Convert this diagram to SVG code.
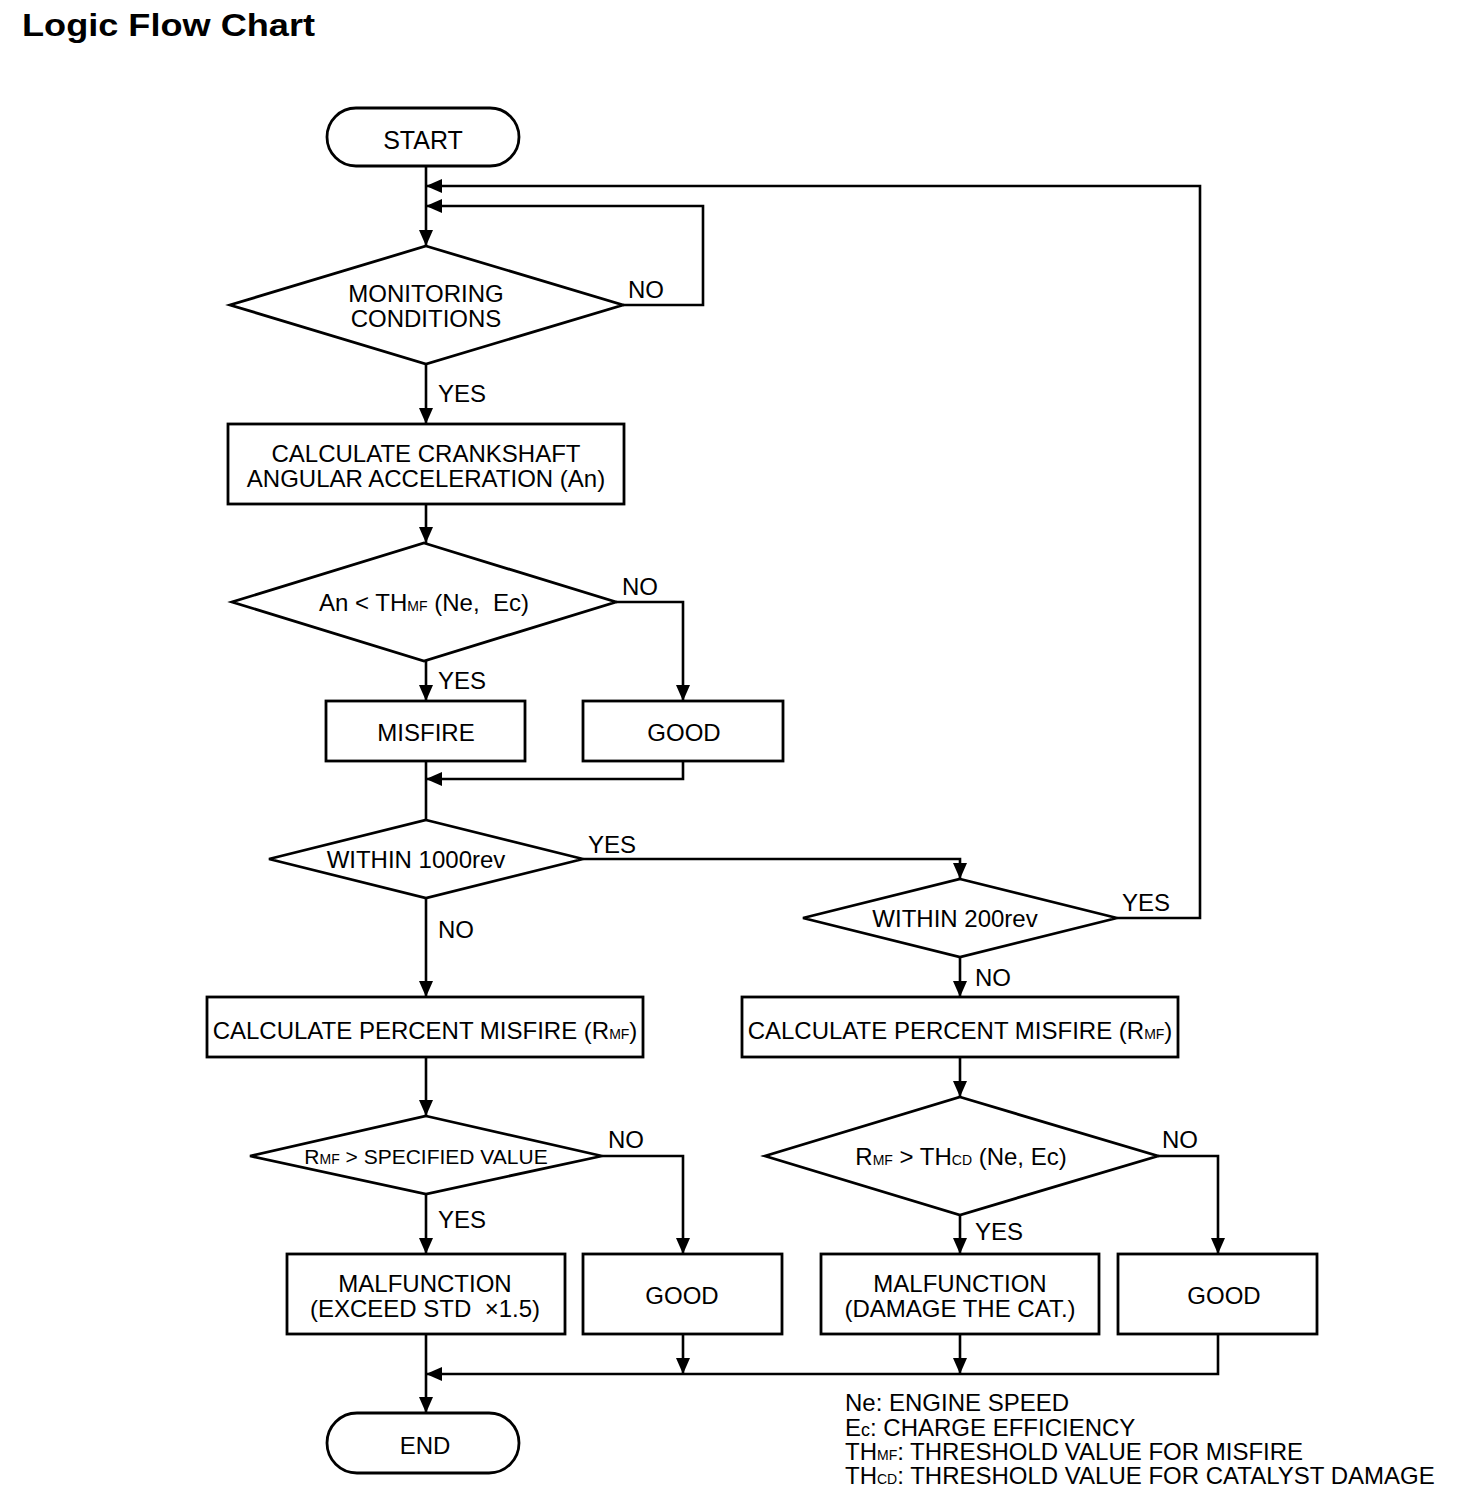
<svg xmlns="http://www.w3.org/2000/svg" width="1472" height="1502" viewBox="0 0 1472 1502">
<style>
.s{fill:#fff;stroke:#000;stroke-width:2.8}
.c{fill:none;stroke:#000;stroke-width:2.6}
text{font-family:"Liberation Sans",Arial,sans-serif;font-size:24px;fill:#000}
.m{text-anchor:middle}
.sub{font-size:14px}
.t{font-size:31px;font-weight:bold}
</style>
<defs>
<marker id="ah" viewBox="0 0 16 14" refX="16" refY="7" markerWidth="16" markerHeight="14" orient="auto" markerUnits="userSpaceOnUse"><path d="M0,0 L16,7 L0,14 z" fill="#000"/></marker>
</defs>
<rect width="1472" height="1502" fill="#fff"/>
<text x="22" y="36" class="t" textLength="293" lengthAdjust="spacingAndGlyphs">Logic Flow Chart</text>

<g id="connectors">
<path class="c" d="M426,166 V246" marker-end="url(#ah)"/>
<path class="c" d="M1117,918 H1200 V186 H426" marker-end="url(#ah)"/>
<path class="c" d="M623,305 H703 V206 H426" marker-end="url(#ah)"/>
<path class="c" d="M426,364 V424" marker-end="url(#ah)"/>
<path class="c" d="M426,504 V543" marker-end="url(#ah)"/>
<path class="c" d="M616,602 H683 V701" marker-end="url(#ah)"/>
<path class="c" d="M426,661 V701" marker-end="url(#ah)"/>
<path class="c" d="M426,761 V820"/>
<path class="c" d="M683,761 V779 H426" marker-end="url(#ah)"/>
<path class="c" d="M583,859 H960 V879" marker-end="url(#ah)"/>
<path class="c" d="M426,898 V997" marker-end="url(#ah)"/>
<path class="c" d="M960,957 V997" marker-end="url(#ah)"/>
<path class="c" d="M426,1057 V1116" marker-end="url(#ah)"/>
<path class="c" d="M960,1057 V1097" marker-end="url(#ah)"/>
<path class="c" d="M602,1156 H683 V1254" marker-end="url(#ah)"/>
<path class="c" d="M426,1194 V1254" marker-end="url(#ah)"/>
<path class="c" d="M1158,1156 H1218 V1254" marker-end="url(#ah)"/>
<path class="c" d="M960,1215 V1254" marker-end="url(#ah)"/>
<path class="c" d="M426,1334 V1413" marker-end="url(#ah)"/>
<path class="c" d="M1218,1334 V1374 H426" marker-end="url(#ah)"/>
<path class="c" d="M683,1334 V1374" marker-end="url(#ah)"/>
<path class="c" d="M960,1334 V1374" marker-end="url(#ah)"/>
<text x="628" y="298">NO</text>
<text x="438" y="402">YES</text>
<text x="622" y="595">NO</text>
<text x="438" y="689">YES</text>
<text x="588" y="853">YES</text>
<text x="1122" y="911">YES</text>
<text x="438" y="938">NO</text>
<text x="975" y="986">NO</text>
<text x="608" y="1148">NO</text>
<text x="1162" y="1148">NO</text>
<text x="438" y="1228">YES</text>
<text x="975" y="1240">YES</text>
</g>

<g id="start">
<rect class="s" x="327" y="108" width="192" height="58" rx="29"/>
<text x="423" y="149" class="m" style="font-size:25px">START</text>
</g>
<g id="monitoring">
<polygon class="s" points="426,246 623,305 426,364 230,305"/>
<text x="426" y="302" class="m">MONITORING</text>
<text x="426" y="327" class="m">CONDITIONS</text>
</g>
<g id="calc-accel">
<rect class="s" x="228" y="424" width="396" height="80"/>
<text x="426" y="462" class="m">CALCULATE CRANKSHAFT</text>
<text x="426" y="487" class="m">ANGULAR ACCELERATION (An)</text>
</g>
<g id="threshold">
<polygon class="s" points="424,543 616,602 424,661 232,602"/>
<text x="424" y="611" class="m">An &lt; TH<tspan class="sub">MF</tspan> (Ne,&#160; Ec)</text>
</g>
<g id="misfire">
<rect class="s" x="326" y="701" width="199" height="60"/>
<text x="426" y="741" class="m">MISFIRE</text>
</g>
<g id="good1">
<rect class="s" x="583" y="701" width="200" height="60"/>
<text x="684" y="741" class="m">GOOD</text>
</g>
<g id="within1000">
<polygon class="s" points="426,820 583,859 426,898 269,859"/>
<text x="416" y="868" class="m">WITHIN 1000rev</text>
</g>
<g id="within200">
<polygon class="s" points="960,879 1117,918 960,957 803,918"/>
<text x="955" y="927" class="m">WITHIN 200rev</text>
</g>
<g id="calc-percent-1">
<rect class="s" x="207" y="997" width="436" height="60"/>
<text x="425" y="1039" class="m">CALCULATE PERCENT MISFIRE (R<tspan class="sub">MF</tspan>)</text>
</g>
<g id="calc-percent-2">
<rect class="s" x="742" y="997" width="436" height="60"/>
<text x="960" y="1039" class="m">CALCULATE PERCENT MISFIRE (R<tspan class="sub">MF</tspan>)</text>
</g>
<g id="specified">
<polygon class="s" points="426,1116 602,1156 426,1194 250,1156"/>
<text x="426" y="1164" class="m" style="font-size:21px">R<tspan class="sub">MF</tspan> &gt; SPECIFIED VALUE</text>
</g>
<g id="thcd">
<polygon class="s" points="960,1097 1158,1156 960,1215 765,1156"/>
<text x="961" y="1165" class="m">R<tspan class="sub">MF</tspan> &gt; TH<tspan class="sub">CD</tspan> (Ne, Ec)</text>
</g>
<g id="malf1">
<rect class="s" x="287" y="1254" width="278" height="80"/>
<text x="425" y="1292" class="m">MALFUNCTION</text>
<text x="425" y="1317" class="m">(EXCEED STD&#160; ×1.5)</text>
</g>
<g id="good2">
<rect class="s" x="583" y="1254" width="199" height="80"/>
<text x="682" y="1304" class="m">GOOD</text>
</g>
<g id="malf2">
<rect class="s" x="821" y="1254" width="278" height="80"/>
<text x="960" y="1292" class="m">MALFUNCTION</text>
<text x="960" y="1317" class="m">(DAMAGE THE CAT.)</text>
</g>
<g id="good3">
<rect class="s" x="1118" y="1254" width="199" height="80"/>
<text x="1224" y="1304" class="m">GOOD</text>
</g>
<g id="end">
<rect class="s" x="327" y="1413" width="192" height="60" rx="30"/>
<text x="425" y="1454" class="m">END</text>
</g>
<g id="legend">
<text x="845" y="1411">Ne: ENGINE SPEED</text>
<text x="845" y="1436">E<tspan style="font-size:18px">c</tspan>: CHARGE EFFICIENCY</text>
<text x="845" y="1460">TH<tspan class="sub">MF</tspan>: THRESHOLD VALUE FOR MISFIRE</text>
<text x="845" y="1484">TH<tspan class="sub">CD</tspan>: THRESHOLD VALUE FOR CATALYST DAMAGE</text>
</g>
</svg>
